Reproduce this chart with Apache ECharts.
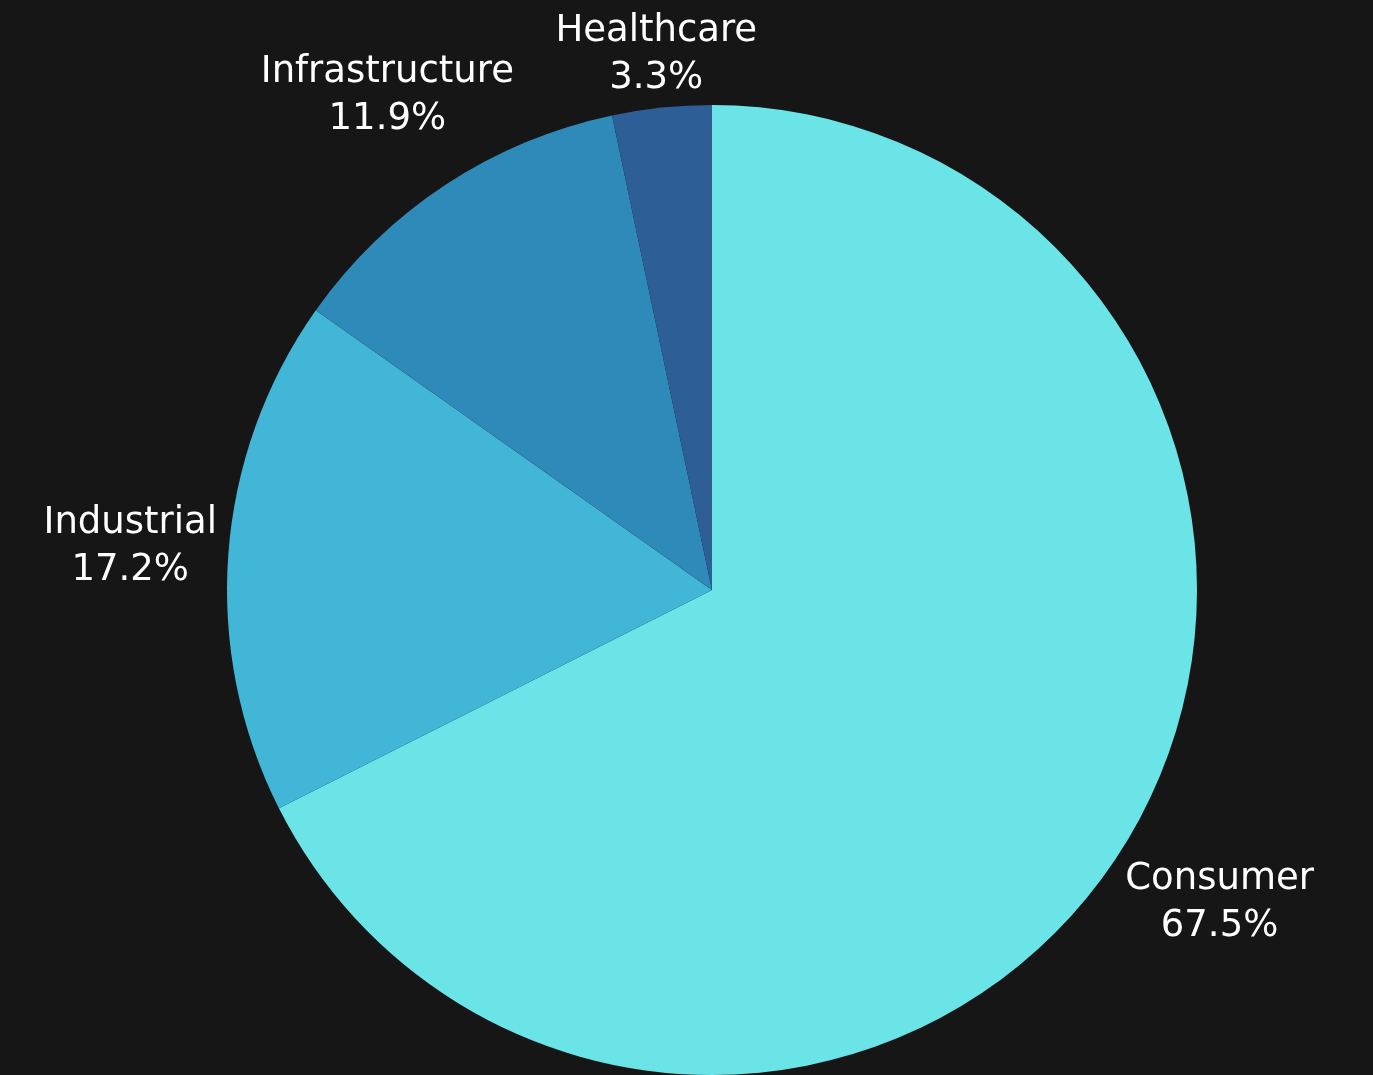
<!DOCTYPE html>
<html><head><meta charset="utf-8">
<script src="https://cdn.jsdelivr.net/npm/echarts@6/dist/echarts.min.js"></script>
<style>html,body{margin:0;padding:0;background:#161616;}#c{width:1373px;height:1075px;}</style>
</head><body><div id="c"></div>
<script>
const categories = ["Consumer", "Industrial", "Infrastructure", "Healthcare"];
const values = [67.5, 17.2, 11.9, 3.3];
const colors = ["#6be4e8", "#42b6d6", "#2d8ab9", "#2d5f96"];

const CX = 712, CY = 590, R = 485, GAP = 10, VPAD = 7;
const total = values.reduce((a, b) => a + b, 0);
const midFrac = values.map((v, i) => (values.slice(0, i).reduce((a, b) => a + b, 0) + v / 2) / total);

function placeLabel(i, w, h) {
  const ang = midFrac[i] * 2 * Math.PI;
  const ux = Math.sin(ang), uy = -Math.cos(ang);
  const hw = w / 2, hh = h / 2 - VPAD, D = R + GAP;
  const dist = t => {
    const cx = t * ux, cy = t * uy;
    return Math.hypot(Math.max(Math.abs(cx) - hw, 0), Math.max(Math.abs(cy) - hh, 0));
  };
  let lo = 0, hi = 2000;
  for (let k = 0; k < 60; k++) { const m = (lo + hi) / 2; if (dist(m) < D) lo = m; else hi = m; }
  return { x: CX + lo * ux, y: CY + lo * uy };
}

const chart = echarts.init(document.getElementById('c'));
chart.setOption({
  backgroundColor: '#161616',
  color: colors,
  series: [{
    type: 'pie',
    center: [CX, CY],
    radius: [0, R],
    startAngle: 90,
    clockwise: true,
    data: categories.map((c, i) => ({ name: c, value: values[i] })),
    itemStyle: { borderWidth: 0 },
    label: {
      show: true,
      position: 'outside',
      formatter: p => p.name + '\n' + p.value.toFixed(1) + '%',
      color: '#ffffff',
      fontFamily: 'DejaVu Sans',
      fontSize: 37,
      lineHeight: 47,
      align: 'center',
      overflow: 'none',
      width: null
    },
    labelLine: { show: false },
    labelLayout: function (p) {
      const w = p.labelRect.width, h = p.labelRect.height;
      const pos = placeLabel(p.dataIndex, w, h);
      return { x: pos.x, y: pos.y, align: 'center', verticalAlign: 'middle' };
    },
    emphasis: { disabled: true },
    animation: false
  }]
});
</script></body></html>
